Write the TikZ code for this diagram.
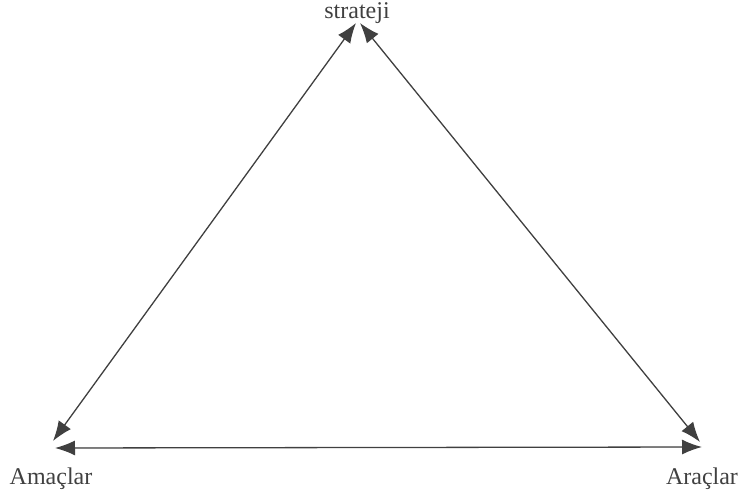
\documentclass[tikz,border=0pt]{standalone}
\usepackage{fontspec}
\setmainfont{Liberation Serif}
\usetikzlibrary{arrows.meta,positioning,calc}
\tikzset{
  label/.style={
    font=\fontsize{24}{28}\selectfont,
    text=black!75,
    inner sep=0pt
  },
  line/.style={
    {Latex[length=20pt,width=15pt]}-{Latex[length=20pt,width=15pt]},
    line width=1.3pt,
    draw=black!75,
    fill=black!75
  }
}

\begin{document}
\begin{tikzpicture}[x=1pt,y=-1pt]

\useasboundingbox (0,0) rectangle (744,495);

\coordinate (top) at (358,23);
\coordinate (amac) at (53,443);
\coordinate (arac) at (702,445);

\node[label, anchor=base] (strateji) at (357,19) {strateji};
\node[label, anchor=base] (amaclar) at (51,484) {Amaçlar};
\node[label, anchor=base] (araclar) at (702,484) {Araçlar};

\draw[line] ($(top)+(-2,0)$) -- ($(amac)+(0,-2)$);
\draw[line] ($(top)+(2,0)$) -- ($(arac)+(-2,-3)$);
\draw[line] ($(amac)+(2,5)$) -- ($(arac)+(0,2)$);

\end{tikzpicture}
\end{document}
